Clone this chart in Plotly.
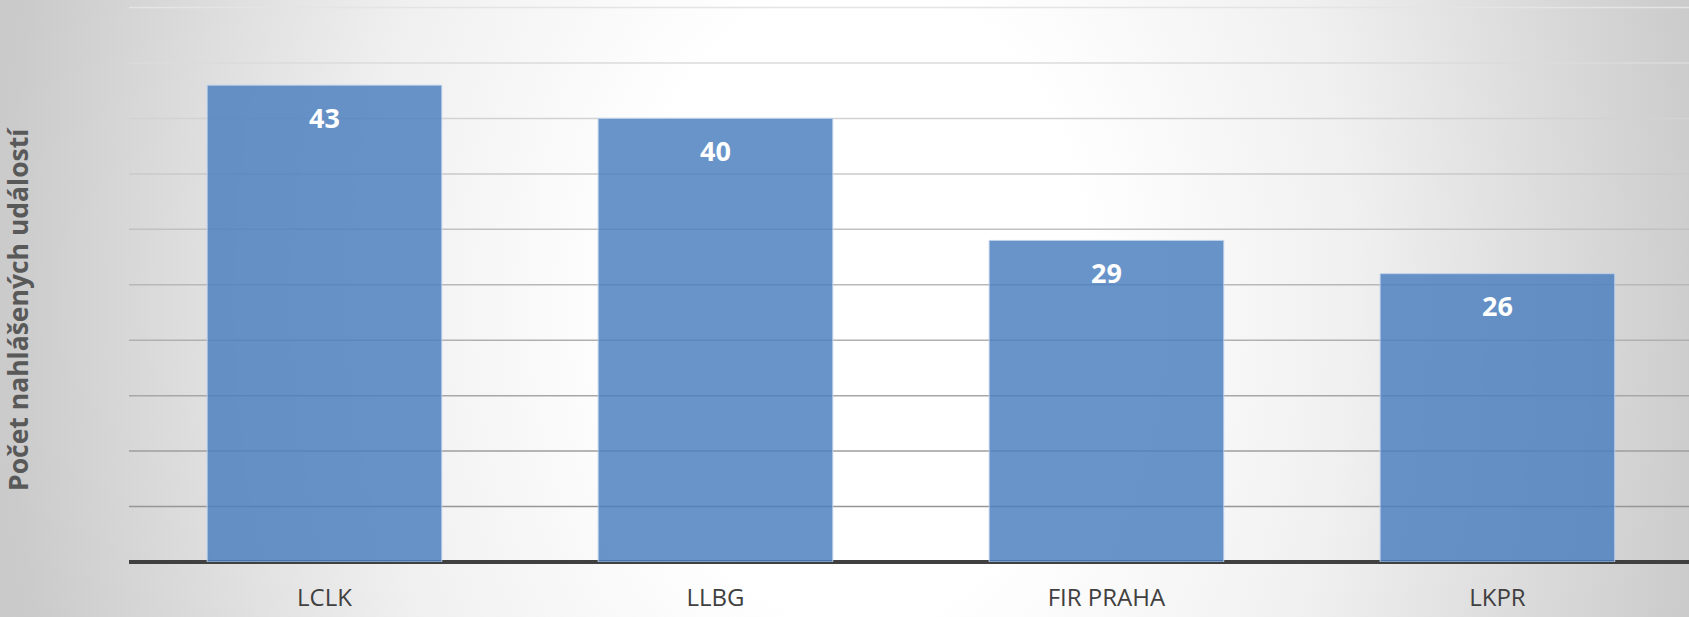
import base64
import plotly.graph_objects as go

categories = ["LCLK", "LLBG", "FIR PRAHA", "LKPR"]
values = [43, 40, 29, 26]
grid_values = [5, 10, 15, 20, 25, 30, 35, 40, 45, 50]
y_title = "Počet nahlášených událostí"

W, H = 1689, 617
ML, MR, MT, MB = 129, 0, 2, 55
PW, PH = W - ML - MR, H - MT - MB

svg = f"""<svg xmlns='http://www.w3.org/2000/svg' width='{W}' height='{H}' viewBox='0 0 {W} {H}' preserveAspectRatio='none'>
<defs>
<radialGradient id='g' gradientUnits='userSpaceOnUse' cx='860' cy='300' r='900' gradientTransform='translate(860 300) scale(1 1.4) translate(-860 -300)'>
<stop offset='0' stop-color='#ffffff'/>
<stop offset='0.25' stop-color='#ffffff'/>
<stop offset='0.55' stop-color='#f0f0f0'/>
<stop offset='0.95' stop-color='#cbcbcb'/>
<stop offset='1' stop-color='#c9c9c9'/>
</radialGradient>
</defs>
<rect x='0' y='0' width='{W}' height='{H}' fill='url(#g)'/>
</svg>"""
bg_uri = "data:image/svg+xml;base64," + base64.b64encode(svg.encode("utf-8")).decode("ascii")

fig = go.Figure()

# gridlines: darker toward the bottom, as in the reference
vmin, vmax = min(grid_values), max(grid_values)
for gv in grid_values:
    t = (gv - vmin) / (vmax - vmin)
    c = int(150 + t * (228 - 150))
    fig.add_shape(
        type="line", xref="paper", yref="y", x0=0, x1=1, y0=gv, y1=gv,
        line=dict(color=f"rgb({c},{c},{c})", width=1.5), layer="below",
    )

fig.add_trace(go.Bar(
    x=categories,
    y=values,
    width=0.6,
    marker=dict(color="rgba(74,126,190,0.83)", line=dict(color="rgba(190,210,235,0.9)", width=1)),
    hoverinfo="skip",
    showlegend=False,
))

for c, v in zip(categories, values):
    fig.add_annotation(
        x=c, y=v, xref="x", yref="y", text=str(v), showarrow=False,
        yshift=-32, font=dict(family="Open Sans", size=27, color="white", weight="bold"),
    )

fig.add_annotation(
    xref="paper", yref="paper", x=0, y=(H - MB - 309) / PH, xshift=-111,
    text=f"<b>{y_title}</b>", textangle=-90, showarrow=False,
    font=dict(family="Open Sans", size=26.5, color="#595959"),
    xanchor="center", yanchor="middle",
)

fig.add_layout_image(dict(
    source=bg_uri, xref="paper", yref="paper",
    x=-ML / PW, y=1 + MT / PH, sizex=W / PW, sizey=H / PH,
    xanchor="left", yanchor="top", sizing="stretch", layer="below",
))

fig.update_layout(
    template="none",
    width=W, height=H,
    margin=dict(l=ML, r=MR, t=MT, b=MB),
    paper_bgcolor="#d9d9d9",
    plot_bgcolor="rgba(0,0,0,0)",
    bargap=0.4,
    xaxis=dict(
        range=[-0.5, 3.49], showgrid=False, zeroline=False,
        showline=False, ticks="", automargin=False,
        tickfont=dict(family="Open Sans", size=24, color="#404040"),
        ticklabelstandoff=19,
    ),
    yaxis=dict(
        range=[0, 50.5], showticklabels=False, ticks="",
        showgrid=False,
        zeroline=True, zerolinecolor="#404040", zerolinewidth=4,
        showline=False, automargin=False,
    ),
)

fig.write_html(
    "out.html",
    config={"displayModeBar": False},
    post_script="document.body.style.margin='0';document.body.style.overflow='hidden';",
)
